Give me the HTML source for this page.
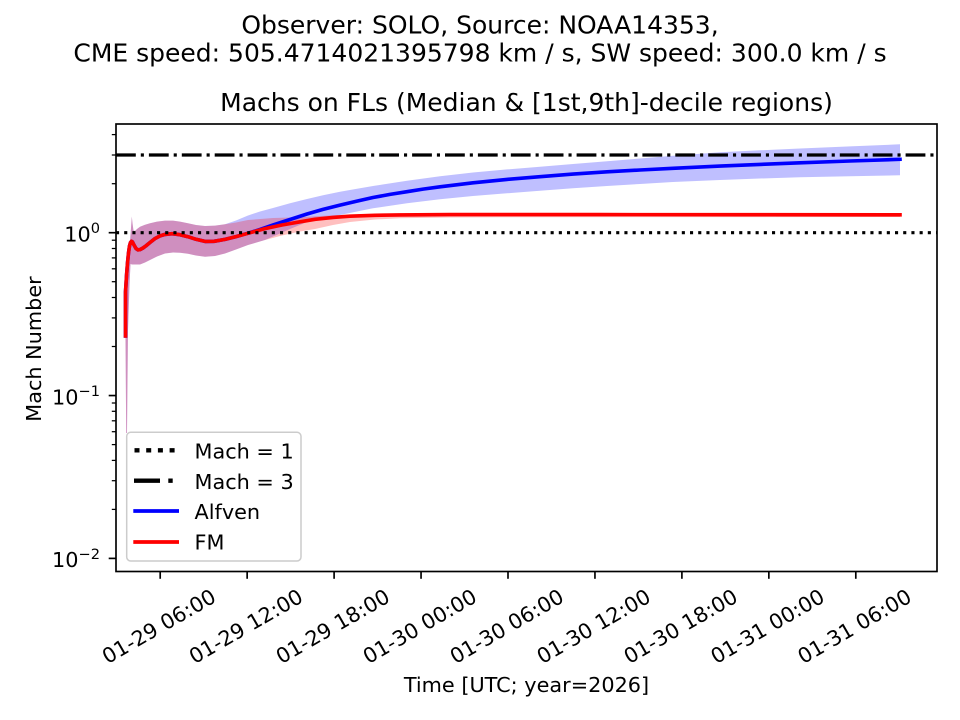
<!DOCTYPE html>
<html>
<head>
<meta charset="utf-8">
<style>
  html, body { margin: 0; padding: 0; background: #ffffff; }
  svg { display: block; }
  text { font-family: "DejaVu Sans", "Liberation Sans", sans-serif; fill: #000; }
</style>
</head>
<body>
<svg width="960" height="720" viewBox="0 0 960 720" xmlns="http://www.w3.org/2000/svg">
  <rect x="0" y="0" width="960" height="720" fill="#ffffff"/>

  <!-- Titles -->
  <text x="480" y="33.3" font-size="25" text-anchor="middle">Observer: SOLO, Source: NOAA14353,</text>
  <text x="480" y="61.7" font-size="25" text-anchor="middle">CME speed: 505.4714021395798 km / s, SW speed: 300.0 km / s</text>
  <text x="526.5" y="111" font-size="25" text-anchor="middle">Machs on FLs (Median &amp; [1st,9th]-decile regions)</text>

  <defs>
    <clipPath id="ax">
      <rect x="116" y="124" width="821" height="447.5"/>
    </clipPath>
  </defs>

  <g clip-path="url(#ax)">
    <!-- Blue band -->
    <path fill="#0000ff" fill-opacity="0.25" stroke="none" d="
      M125.5,300 L127.5,270 L129.5,248 L131,228 L131.8,216.5 L132.6,224 L133.5,230.5 L135,231 L137,229 L140,226.7 L145,224.8 L150,223.3 L157,221.6 L165,220.6 L173,220.6 L180,221.6 L188,223.2 L196,225 L205,226 L215,225.6 L225,224.3
      L236,220.5 L248,215.5 L260,211.5 L273,208 L290,203.3 L307,199 L323,195.3 L340,191.8 L357,188.8 L373,186 L407,180.8 L440,176.2 L473,172.5 L507,169.4 L540,166.7 L573,164 L607,161.3 L640,158.5 L673,155.7 L720,152.2 L760,150.3 L800,148.5 L850,146.4 L900,144.3
      L900,175.3 L850,176.2 L800,177.3 L760,178.5 L720,180 L673,182 L640,184 L607,186 L573,188.3 L540,190.7 L507,193.3 L473,196 L440,199.3 L407,203.3 L373,208.3 L357,211.5 L340,215 L323,218.3 L307,222 L290,229 L273,236.5
      L265,240 L248,245 L236,249.5 L225,253.5 L215,256 L205,256.7 L196,255.5 L188,253.8 L180,252.8 L173,252.5 L165,253.5 L157,256.5 L150,260 L145,262.5 L140,264.5 L135,264.5 L132,264.5 L130.5,264 L129.5,285 L128,330 L127,433 L126.2,433 L125.5,340 Z"/>
    <!-- Red band -->
    <path fill="#ff0000" fill-opacity="0.25" stroke="none" d="
      M125.5,300 L127.5,270 L129.5,248 L131,228 L131.8,216.5 L132.6,224 L133.5,230.5 L135,231 L137,229 L140,226.7 L145,224.8 L150,223.3 L157,221.6 L165,220.6 L173,220.6 L180,221.6 L188,223.2 L196,225 L205,226 L215,225.6 L225,224.3
      L236,222.5 L248,220 L273,218 L300,217.3 L320,216 L350,214.5 L400,213.3 L500,213 L900,213
      L900,217 L500,217.2 L450,217.5 L400,218.3 L375,219.5 L350,222 L333,225 L315,229 L300,231.5 L282,235.5
      L265,240 L248,245 L236,249.5 L225,253.5 L215,256 L205,256.7 L196,255.5 L188,253.8 L180,252.8 L173,252.5 L165,253.5 L157,256.5 L150,260 L145,262.5 L140,264.5 L135,264.5 L132,264.5 L130.5,264 L129.5,285 L128,330 L127,433 L126.2,433 L125.5,340 Z"/>

    <!-- Blue median -->
    <path fill="none" stroke="#0000ff" stroke-width="3.6" stroke-linejoin="round" stroke-linecap="square" d="
      M125.5,336 L125.5,292 L126.5,276 L127.5,263 L128.5,253 L129.5,246 L130.5,242.5 L131.5,241.3 L132.5,242 L134,245 L136,248.5 L138,249.9 L140,249.6 L143,248 L146,245.8 L150,242.5 L155,238.6 L160,235.9 L165,234.4 L172,233.7 L180,234.7 L188,236.7 L196,239.3 L205,241.4 L214,241.3 L225,239.4 L236,236.6
      L248,233.2 L260,229.5 L273,225 L290,219.5 L307,214 L323,209.4 L340,205.1 L357,201.1 L373,197.5 L390,194.4 L407,191.7 L423,189.1 L440,186.8 L473,182.8 L507,179.4 L540,176.7 L573,174.1 L607,171.8 L640,170 L673,168.3 L720,166.1 L760,164.4 L800,162.8 L850,161 L900,159.3"/>
    <!-- Red median -->
    <path fill="none" stroke="#ff0000" stroke-width="3.6" stroke-linejoin="round" stroke-linecap="square" d="
      M125.5,336 L125.5,292 L126.5,276 L127.5,263 L128.5,253 L129.5,246 L130.5,242.5 L131.5,241.3 L132.5,242 L134,245 L136,248.5 L138,249.9 L140,249.6 L143,248 L146,245.8 L150,242.5 L155,238.6 L160,235.9 L165,234.4 L172,233.7 L180,234.7 L188,236.7 L196,239.3 L205,241.4 L214,241.3 L225,239.4 L236,236.6
      L248,233.3 L265,228.6 L282,225 L300,221.8 L315,219.3 L333,217.4 L350,216.2 L375,215.3 L400,214.9 L450,214.6 L600,214.6 L750,214.7 L900,214.8"/>

    <!-- Horizontal reference lines -->
    <line x1="116" y1="232.7" x2="937" y2="232.7" stroke="#000" stroke-width="3.1" stroke-dasharray="3.1 5.1"/>
    <line x1="116" y1="155" x2="937" y2="155" stroke="#000" stroke-width="3.2" stroke-dasharray="19.8 5 3.1 5"/>
  </g>

  <!-- Axes spines -->
  <rect x="116" y="124" width="821" height="447.5" fill="none" stroke="#000" stroke-width="1.67"/>

  <!-- Y major ticks -->
  <g stroke="#000" stroke-width="1.67">
    <line x1="108.7" y1="232.7" x2="116" y2="232.7"/>
    <line x1="108.7" y1="395.55" x2="116" y2="395.55"/>
    <line x1="108.7" y1="558.4" x2="116" y2="558.4"/>
  </g>
  <!-- Y minor ticks -->
  <g stroke="#000" stroke-width="1.25">
    <line x1="111.8" y1="509.4" x2="116" y2="509.4"/>
    <line x1="111.8" y1="480.7" x2="116" y2="480.7"/>
    <line x1="111.8" y1="460.4" x2="116" y2="460.4"/>
    <line x1="111.8" y1="444.6" x2="116" y2="444.6"/>
    <line x1="111.8" y1="431.7" x2="116" y2="431.7"/>
    <line x1="111.8" y1="420.8" x2="116" y2="420.8"/>
    <line x1="111.8" y1="411.3" x2="116" y2="411.3"/>
    <line x1="111.8" y1="403.0" x2="116" y2="403.0"/>
    <line x1="111.8" y1="346.5" x2="116" y2="346.5"/>
    <line x1="111.8" y1="317.9" x2="116" y2="317.9"/>
    <line x1="111.8" y1="297.5" x2="116" y2="297.5"/>
    <line x1="111.8" y1="281.7" x2="116" y2="281.7"/>
    <line x1="111.8" y1="268.8" x2="116" y2="268.8"/>
    <line x1="111.8" y1="257.9" x2="116" y2="257.9"/>
    <line x1="111.8" y1="248.5" x2="116" y2="248.5"/>
    <line x1="111.8" y1="240.2" x2="116" y2="240.2"/>
    <line x1="111.8" y1="183.7" x2="116" y2="183.7"/>
    <line x1="111.8" y1="155.0" x2="116" y2="155.0"/>
    <line x1="111.8" y1="134.6" x2="116" y2="134.6"/>
  </g>

  <!-- Y tick labels -->
  <text x="100" y="241.4" font-size="20.8" text-anchor="end">10<tspan dy="-8.3" font-size="14.6">0</tspan></text>
  <text x="100" y="404.3" font-size="20.8" text-anchor="end">10<tspan dy="-8.3" font-size="14.6">−1</tspan></text>
  <text x="100" y="567.1" font-size="20.8" text-anchor="end">10<tspan dy="-8.3" font-size="14.6">−2</tspan></text>

  <!-- Y label -->
  <text transform="translate(41,349) rotate(-90)" x="0" y="0" font-size="20.8" text-anchor="middle">Mach Number</text>

  <!-- X ticks -->
  <g stroke="#000" stroke-width="1.67">
    <line x1="160.2" y1="571.5" x2="160.2" y2="578.8"/>
    <line x1="247.15" y1="571.5" x2="247.15" y2="578.8"/>
    <line x1="334.1" y1="571.5" x2="334.1" y2="578.8"/>
    <line x1="421.05" y1="571.5" x2="421.05" y2="578.8"/>
    <line x1="508" y1="571.5" x2="508" y2="578.8"/>
    <line x1="594.95" y1="571.5" x2="594.95" y2="578.8"/>
    <line x1="681.9" y1="571.5" x2="681.9" y2="578.8"/>
    <line x1="768.85" y1="571.5" x2="768.85" y2="578.8"/>
    <line x1="855.8" y1="571.5" x2="855.8" y2="578.8"/>
  </g>

  <!-- X tick labels -->
  <g font-size="20.8" text-anchor="middle">
    <text transform="translate(158.7,626) rotate(-30)" y="7.6">01-29 06:00</text>
    <text transform="translate(245.65,626) rotate(-30)" y="7.6">01-29 12:00</text>
    <text transform="translate(332.6,626) rotate(-30)" y="7.6">01-29 18:00</text>
    <text transform="translate(419.55,626) rotate(-30)" y="7.6">01-30 00:00</text>
    <text transform="translate(506.5,626) rotate(-30)" y="7.6">01-30 06:00</text>
    <text transform="translate(593.45,626) rotate(-30)" y="7.6">01-30 12:00</text>
    <text transform="translate(680.4,626) rotate(-30)" y="7.6">01-30 18:00</text>
    <text transform="translate(767.35,626) rotate(-30)" y="7.6">01-31 00:00</text>
    <text transform="translate(854.3,626) rotate(-30)" y="7.6">01-31 06:00</text>
  </g>

  <!-- X label -->
  <text x="526.5" y="692" font-size="20.8" text-anchor="middle">Time [UTC; year=2026]</text>

  <!-- Legend -->
  <rect x="126.7" y="432.3" width="174.3" height="128.7" rx="4" ry="4" fill="#ffffff" fill-opacity="0.8" stroke="#cccccc" stroke-width="1.5"/>
  <line x1="134.5" y1="450.3" x2="179" y2="450.3" stroke="#000" stroke-width="4.4" stroke-dasharray="5 6.7"/>
  <line x1="134" y1="480.7" x2="179" y2="480.7" stroke="#000" stroke-width="4.4" stroke-dasharray="26 8.3 4.4 20"/>
  <line x1="133.3" y1="511" x2="179" y2="511" stroke="#0000ff" stroke-width="3.7"/>
  <line x1="133.3" y1="542" x2="179" y2="542" stroke="#ff0000" stroke-width="3.7"/>
  <g font-size="20.8">
    <text x="194.5" y="458.5">Mach = 1</text>
    <text x="194.5" y="488.8">Mach = 3</text>
    <text x="194.5" y="519.1">Alfven</text>
    <text x="194.5" y="549.4">FM</text>
  </g>
</svg>
</body>
</html>
